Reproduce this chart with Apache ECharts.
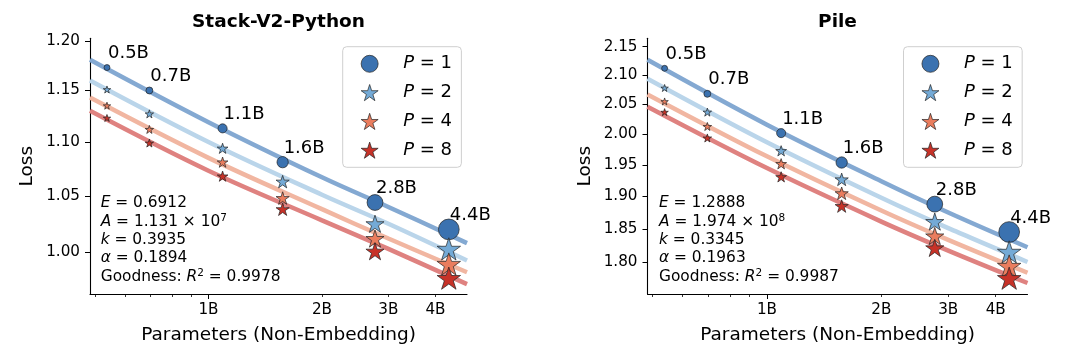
<!DOCTYPE html>
<html>
<head>
<meta charset="utf-8">
<title>Loss vs parameters</title>
<script src="https://cdn.jsdelivr.net/npm/echarts@6/dist/echarts.min.js"></script>
<style>
  html, body { margin: 0; padding: 0; background: #fff; }
  #chart { width: 1080px; height: 351px; }
</style>
</head>
<body>
<div id="chart"></div>
<script>
// model sizes, non-embedding params in billions
const paramsB = [0.538, 0.697, 1.09, 1.573, 2.765, 4.34];
const sizeLabels = ['0.5B', '0.7B', '1.1B', '1.6B', '2.8B', '4.4B'];
const seriesNames = ['P = 1', 'P = 2', 'P = 4', 'P = 8'];

// measured loss, Stack-V2-Python
const stackP1 = [1.173, 1.150, 1.113, 1.081, 1.044, 1.020];
const stackP2 = [1.151, 1.127, 1.094, 1.063, 1.025, 1.003];
const stackP4 = [1.135, 1.112, 1.081, 1.048, 1.012, 0.990];
const stackP8 = [1.123, 1.099, 1.068, 1.038, 1.001, 0.978];

// measured loss, Pile
const pileP1 = [2.112, 2.068, 2.002, 1.954, 1.888, 1.845];
const pileP2 = [2.078, 2.037, 1.973, 1.927, 1.861, 1.815];
const pileP4 = [2.055, 2.013, 1.952, 1.905, 1.839, 1.794];
const pileP8 = [2.037, 1.994, 1.931, 1.885, 1.821, 1.776];

// fitted curves at these sizes
const fitParamsB = [0.485, 1, 2, 3, 4.85];
const stackFitP1 = [1.181, 1.119, 1.067, 1.040, 1.008];
const stackFitP2 = [1.160, 1.100, 1.051, 1.025, 0.993];
const stackFitP4 = [1.143, 1.085, 1.038, 1.012, 0.983];
const stackFitP8 = [1.130, 1.073, 1.028, 1.003, 0.973];
const pileFitP1 = [2.127, 2.016, 1.924, 1.875, 1.822];
const pileFitP2 = [2.094, 1.987, 1.898, 1.851, 1.800];
const pileFitP4 = [2.067, 1.964, 1.878, 1.833, 1.784];
const pileFitP8 = [2.046, 1.945, 1.861, 1.817, 1.769];

// fit parameters: E, A mantissa, A exponent, k, alpha, R^2
const stackStats = ['0.6912', '1.131', '7', '0.3935', '0.1894', '0.9978'];
const pileStats = ['1.2888', '1.974', '8', '0.3345', '0.1963', '0.9987'];

// ticks
const xRangeB = [0.485, 4.85];
const xMajorTicks = [1];
const xMinorTicks = [0.5, 0.6, 0.7, 0.8, 0.9, 2, 3, 4];
const xLabelTicks = [1, 2, 3, 4];
const stackYTicks = [1.00, 1.05, 1.10, 1.15, 1.20];
const pileYTicks = [1.80, 1.85, 1.90, 1.95, 2.00, 2.05, 2.10, 2.15];
const stackYRange = [0.9647, 1.203];
const pileYRange = [1.753, 2.165];

const FONT = 'DejaVu Sans';
const markerColors = ['#3b72b0', '#74aad6', '#ea7d5e', '#c73228'];
const lineColors = ['#84a9d2', '#bad5ea', '#f1b6a1', '#df8280'];
const STAR = 'path://M100,0 L122.45,69.1 L195.1,69.1 L136.3,111.8 L158.8,180.9 L100,138.2 L41.2,180.9 L63.7,111.8 L4.9,69.1 L77.55,69.1 Z';

// both axes are logarithmic: x in log10, y in ln
const lx = v => Math.log10(v);
const ly = v => Math.log(v);

const panels = [
  {
    title: 'Stack-V2-Python', left: 90, width: 377,
    yRange: stackYRange, yTicks: stackYTicks,
    losses: [stackP1, stackP2, stackP4, stackP8],
    fits: [stackFitP1, stackFitP2, stackFitP4, stackFitP8],
    stats: stackStats, statsX: 100.7, legendLeft: 342.7
  },
  {
    title: 'Pile', left: 647.5, width: 380,
    yRange: pileYRange, yTicks: pileYTicks,
    losses: [pileP1, pileP2, pileP4, pileP8],
    fits: [pileFitP1, pileFitP2, pileFitP4, pileFitP8],
    stats: pileStats, statsX: 659, legendLeft: 903.5
  }
];

const GRID_TOP = 38.3, GRID_H = 255.7;

const grid = [], xAxis = [], yAxis = [], series = [], legend = [], graphic = [];

panels.forEach((p, k) => {
  grid.push({ left: p.left, top: GRID_TOP, width: p.width, height: GRID_H });

  const xBase = {
    type: 'value', gridIndex: k, position: 'bottom',
    min: lx(xRangeB[0]), max: lx(xRangeB[1]),
    splitLine: { show: false }
  };
  // major axis: line, 1B tick, labels
  xAxis.push(Object.assign({}, xBase, {
    name: 'Parameters (Non-Embedding)', nameLocation: 'middle', nameGap: 32,
    nameTextStyle: { fontFamily: FONT, fontSize: 18.5, color: '#000' },
    axisLine: { onZero: false, lineStyle: { color: '#000', width: 1.1 } },
    axisTick: { length: 5, lineStyle: { color: '#000', width: 1 }, customValues: xMajorTicks.map(lx) },
    axisLabel: {
      customValues: xLabelTicks.map(lx), margin: 9,
      fontFamily: FONT, fontSize: 15.2, color: '#000',
      formatter: v => Math.round(Math.pow(10, v)) + 'B'
    }
  }));
  // minor ticks
  xAxis.push(Object.assign({}, xBase, {
    axisLine: { show: false, onZero: false },
    axisTick: { length: 3, lineStyle: { color: '#000', width: 0.8 }, customValues: xMinorTicks.map(lx) },
    axisLabel: { show: false }
  }));

  yAxis.push({
    type: 'value', gridIndex: k,
    min: ly(p.yRange[0]), max: ly(p.yRange[1]),
    name: 'Loss', nameLocation: 'middle', nameGap: 53,
    nameTextStyle: { fontFamily: FONT, fontSize: 18.5, color: '#000' },
    splitLine: { show: false },
    axisLine: { show: true, onZero: false, lineStyle: { color: '#000', width: 1.1 } },
    axisTick: { show: true, length: 5, lineStyle: { color: '#000', width: 1 }, customValues: p.yTicks.map(ly) },
    axisLabel: {
      customValues: p.yTicks.map(ly), margin: 10,
      fontFamily: FONT, fontSize: 15.2, color: '#000',
      formatter: v => Math.exp(v).toFixed(2)
    }
  });

  // fitted curves underneath
  p.fits.forEach((fit, s) => {
    series.push({
      type: 'line', name: 'fit ' + seriesNames[s],
      xAxisIndex: 2 * k, yAxisIndex: k,
      data: fitParamsB.map((n, i) => [lx(n), ly(fit[i])]),
      symbol: 'none', smooth: 0.35, silent: true, z: 1,
      lineStyle: { color: lineColors[s], width: 4.5 }
    });
  });

  // measured points
  p.losses.forEach((loss, s) => {
    const star = s > 0;
    series.push({
      type: 'scatter', name: seriesNames[s],
      xAxisIndex: 2 * k, yAxisIndex: k,
      data: paramsB.map((n, i) => [lx(n), ly(loss[i])]),
      symbol: star ? STAR : 'circle',
      symbolKeepAspect: true,
      symbolSize: v => {
        const d = 8.6 * Math.pow(Math.pow(10, v[0]), 0.6);
        return star ? d * 1.08 + 1 : d;
      },
      clip: false, z: 3 + s,
      itemStyle: { color: markerColors[s], borderColor: '#222', borderWidth: 0.7, opacity: 1 },
      label: s === 0 ? {
        show: true, position: 'inside', align: 'left', verticalAlign: 'middle',
        offset: [1, -14], fontFamily: FONT, fontSize: 18, color: '#000',
        formatter: q => sizeLabels[q.dataIndex]
      } : { show: false },
      emphasis: { disabled: true }
    });
  });

  legend.push({
    data: seriesNames, orient: 'vertical',
    left: p.legendLeft, top: 46.7,
    itemWidth: 17, itemHeight: 17, itemGap: 10.8,
    padding: [8.1, 9.4, 8.1, 18.1],
    borderColor: '#cfcfcf', borderWidth: 1, borderRadius: 4,
    backgroundColor: 'rgba(255,255,255,0.8)',
    selectedMode: false,
    itemStyle: { borderWidth: 0.7, borderColor: '#222' },
    formatter: n => '{i|P}' + n.slice(1),
    textStyle: {
      fontFamily: FONT, fontSize: 18, color: '#000', padding: [0, 0, 0, 20],
      rich: { i: { fontFamily: FONT, fontSize: 18, fontStyle: 'italic', color: '#000' } }
    }
  });

  // panel title
  graphic.push({
    type: 'text', x: p.left + p.width / 2, y: 21.7,
    style: {
      text: p.title, textAlign: 'center', textVerticalAlign: 'middle',
      font: 'bold 18.5px "DejaVu Sans"', fill: '#000'
    }
  });

  // fit parameters box
  const st = p.stats;
  const txtFont = { fontFamily: FONT, fontSize: 15.4, fill: '#000', color: '#000' };
  graphic.push({
    type: 'text', x: p.statsX, y: 194.2, z: 10,
    style: {
      text: '{i|E} = ' + st[0] + '\n' +
            '{i|A} = ' + st[1] + ' × 10{sup|' + st[2] + '}\n' +
            '{i|k} = ' + st[3] + '\n' +
            '{i|α} = ' + st[4] + '\n' +
            'Goodness: {i|R}{sup|2} = ' + st[5],
      fontFamily: FONT, fontSize: 15.4, lineHeight: 18.3, fill: '#000',
      rich: {
        i: Object.assign({ fontStyle: 'italic' }, txtFont),
        sup: { fontFamily: FONT, fontSize: 10.5, lineHeight: 9, verticalAlign: 'top', fill: '#000', color: '#000' }
      }
    }
  });
});

const chart = echarts.init(document.getElementById('chart'), null, { renderer: 'canvas' });
chart.setOption({
  animation: false,
  backgroundColor: '#fff',
  grid, xAxis, yAxis, series, legend, graphic
});
</script>
</body>
</html>
